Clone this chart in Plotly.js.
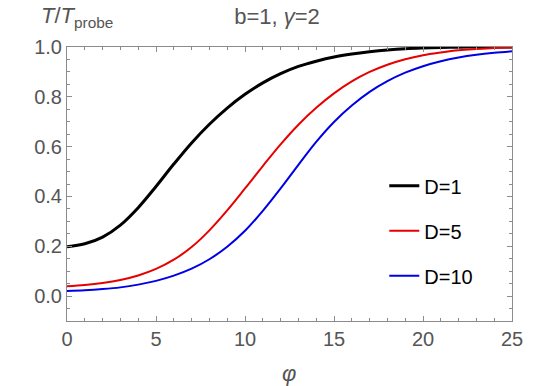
<!DOCTYPE html>
<html>
<head>
<meta charset="utf-8">
<script src="https://cdn.plot.ly/plotly-3.0.1.min.js"></script>
<style>html,body{margin:0;padding:0;background:#fff;}#chart{width:540px;height:386px;}</style>
</head>
<body>
<div id="chart"></div>
<script>
// phi values
const phi = [0,1,2,3,4,5,6,7,8,9,10,11,12,13,14,15,16,17,18,19,20,21,22,23,24,25];
// T/T_probe for D=1
const tD1 = [0.198,0.21,0.237,0.285,0.355,0.44,0.53,0.615,0.69,0.755,0.81,0.856,0.893,0.922,0.943,0.96,0.972,0.981,0.988,0.993,0.996,0.998,0.999,1.0,1.0,1.0];
// T/T_probe for D=5
const tD5 = [0.04,0.045,0.053,0.065,0.083,0.109,0.146,0.197,0.264,0.344,0.432,0.522,0.609,0.688,0.756,0.814,0.862,0.9,0.929,0.951,0.967,0.978,0.987,0.992,0.996,0.998];
// T/T_probe for D=10
const tD10 = [0.02,0.023,0.028,0.035,0.046,0.061,0.082,0.11,0.148,0.198,0.262,0.342,0.432,0.527,0.619,0.699,0.765,0.82,0.863,0.897,0.923,0.943,0.958,0.969,0.977,0.983];
const seriesNames = ["D=1","D=5","D=10"];

const font = "Liberation Sans, Arial, Helvetica, sans-serif";
const frame = "#8c8c8c";
const labelColor = "#555555";

const traces = [
  {x: phi, y: tD1, name: seriesNames[0], mode: "lines", line: {color: "#000000", width: 3, shape: "spline"}, legendgroup: "a"},
  {x: phi, y: tD5, name: seriesNames[1], mode: "lines", line: {color: "#e60000", width: 2, shape: "spline"}, legendgroup: "b"},
  {x: phi, y: tD10, name: seriesNames[2], mode: "lines", line: {color: "#0000e6", width: 2, shape: "spline"}, legendgroup: "c"}
];

const axisCommon = {
  showgrid: false, zeroline: false, showline: true, linecolor: frame, linewidth: 1,
  mirror: "allticks", ticks: "inside", ticklen: 5, tickwidth: 1, tickcolor: frame,
  tickfont: {family: font, size: 20, color: labelColor}
};

const layout = {
  width: 540, height: 386,
  margin: {l: 67, r: 28, t: 47, b: 65},
  paper_bgcolor: "#fff", plot_bgcolor: "#fff",
  title: {text: "b=1, <i>γ</i>=2", font: {family: font, size: 22, color: labelColor},
          x: 277/540, xref: "container", xanchor: "center", y: 1 - 16/386, yref: "container", yanchor: "middle"},
  xaxis: Object.assign({}, axisCommon, {range: [0, 25], tick0: 0, dtick: 5,
    minor: {dtick: 1, ticks: "inside", ticklen: 3, tickcolor: frame}}),
  yaxis: Object.assign({}, axisCommon, {range: [-0.1, 1.0], tick0: 0, dtick: 0.2, tickformat: ".1f",
    minor: {dtick: 0.05, tick0: 0, ticks: "inside", ticklen: 3, tickcolor: frame}}),
  showlegend: true,
  legend: {x: 0.713, y: 0.565, xanchor: "left", yanchor: "top", bgcolor: "rgba(0,0,0,0)",
           font: {family: font, size: 20, color: "#000"}, itemwidth: 30, tracegroupgap: 16, traceorder: "grouped"},
  annotations: [
    {text: "<i>T</i>/<i>T</i><sub>probe</sub>", xref: "paper", yref: "paper", x: (39-67)/445, xanchor: "left",
     y: (321-17)/274, yanchor: "middle", showarrow: false, font: {family: font, size: 22, color: labelColor}},
    {text: "<i>φ</i>", xref: "paper", yref: "paper", x: (289-67)/445, xanchor: "center",
     y: (321-373)/274, yanchor: "middle", showarrow: false, font: {family: font, size: 22, color: labelColor}}
  ]
};

Plotly.newPlot("chart", traces, layout, {displayModeBar: false, staticPlot: true});
</script>
</body>
</html>
